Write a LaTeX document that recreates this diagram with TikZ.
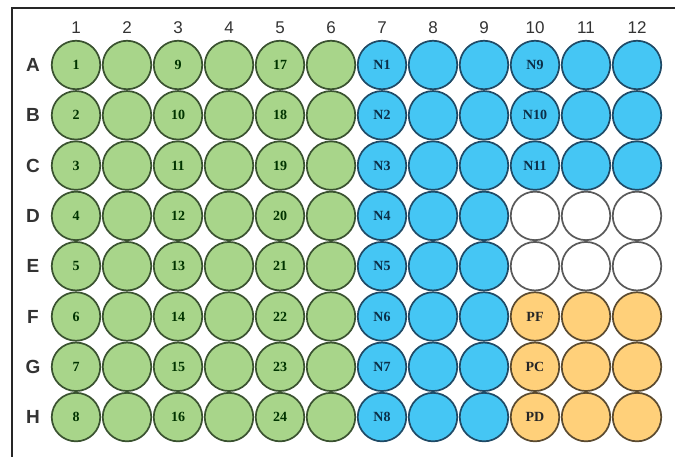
\documentclass[tikz,border=0pt]{standalone}
\usepackage{fontspec}
\setmainfont{Liberation Serif}
\setsansfont{Liberation Sans}
\begin{document}
\begin{tikzpicture}[x=1pt,y=-1pt,
  well/.style={circle,minimum size=48.5pt,inner sep=0pt,line width=1.7pt},
  wtext/.style={font=\fontsize{14}{14}\selectfont\bfseries},
  gw/.style={well,fill=wgreen,draw=wgreenb},
  bw/.style={well,fill=wblue,draw=wblueb},
  ow/.style={well,fill=worange,draw=worangeb},
  ew/.style={well,fill=white,draw=black!65},
  collab/.style={font=\sffamily\fontsize{17}{17}\selectfont,text=black!80},
  rowlab/.style={font=\sffamily\bfseries\fontsize{19}{19}\selectfont,text=black!80}]
\definecolor{wgreen}{HTML}{A8D58A}
\definecolor{wgreenb}{HTML}{3A5230}
\definecolor{wblue}{HTML}{45C6F4}
\definecolor{wblueb}{HTML}{1F4A66}
\definecolor{wbluet}{HTML}{0C2F48}
\definecolor{worange}{HTML}{FFD07A}
\definecolor{worangeb}{HTML}{5A4A30}
\useasboundingbox (0,0) rectangle (675,457);
\fill[white] (0,0) rectangle (675,457);
\draw[line width=2pt,black!85] (12,457) -- (12,8) -- (675,8);
% column labels
\foreach \c in {1,...,12}{
  \node[collab] (c\c) at ({76+(\c-1)*51},28) {\c};
}
% row labels
\foreach \r [count=\i] in {A,B,C,D,E,F,G,H}{
  \node[rowlab] (r\r) at (33,{65+(\i-1)*50.3}) {\r};
}
% wells
\foreach \r [count=\i] in {A,B,C,D,E,F,G,H}{
  \foreach \c in {1,...,6}{
    \node[gw] (w\r\c) at ({76+(\c-1)*51},{65+(\i-1)*50.3}) {};
  }
  \foreach \c in {7,8,9}{
    \node[bw] (w\r\c) at ({76+(\c-1)*51},{65+(\i-1)*50.3}) {};
  }
}
\foreach \r [count=\i] in {A,B,C}{
  \foreach \c in {10,11,12}{
    \node[bw] (w\r\c) at ({76+(\c-1)*51},{65+(\i-1)*50.3}) {};
  }
}
\foreach \r [count=\i from 4] in {D,E}{
  \foreach \c in {10,11,12}{
    \node[ew] (w\r\c) at ({76+(\c-1)*51},{65+(\i-1)*50.3}) {};
  }
}
\foreach \r [count=\i from 6] in {F,G,H}{
  \foreach \c in {10,11,12}{
    \node[ow] (w\r\c) at ({76+(\c-1)*51},{65+(\i-1)*50.3}) {};
  }
}
% labels inside wells
\foreach \r [count=\i] in {A,B,C,D,E,F,G,H}{
  \pgfmathtruncatemacro{\a}{\i}
  \pgfmathtruncatemacro{\b}{\i+8}
  \pgfmathtruncatemacro{\cc}{\i+16}
  \node[wtext,text=black!80!green] (t\r1) at (w\r1) {\a};
  \node[wtext,text=black!80!green] (t\r3) at (w\r3) {\b};
  \node[wtext,text=black!80!green] (t\r5) at (w\r5) {\cc};
  \node[wtext,text=wbluet] (t\r7) at (w\r7) {N\a};
}
\node[wtext,text=wbluet] (tA10) at (wA10) {N9};
\node[wtext,text=wbluet] (tB10) at (wB10) {N10};
\node[wtext,text=wbluet] (tC10) at (wC10) {N11};
\node[wtext,text=black!85] (tF10) at (wF10) {PF};
\node[wtext,text=black!85] (tG10) at (wG10) {PC};
\node[wtext,text=black!85] (tH10) at (wH10) {PD};
\end{tikzpicture}
\end{document}
